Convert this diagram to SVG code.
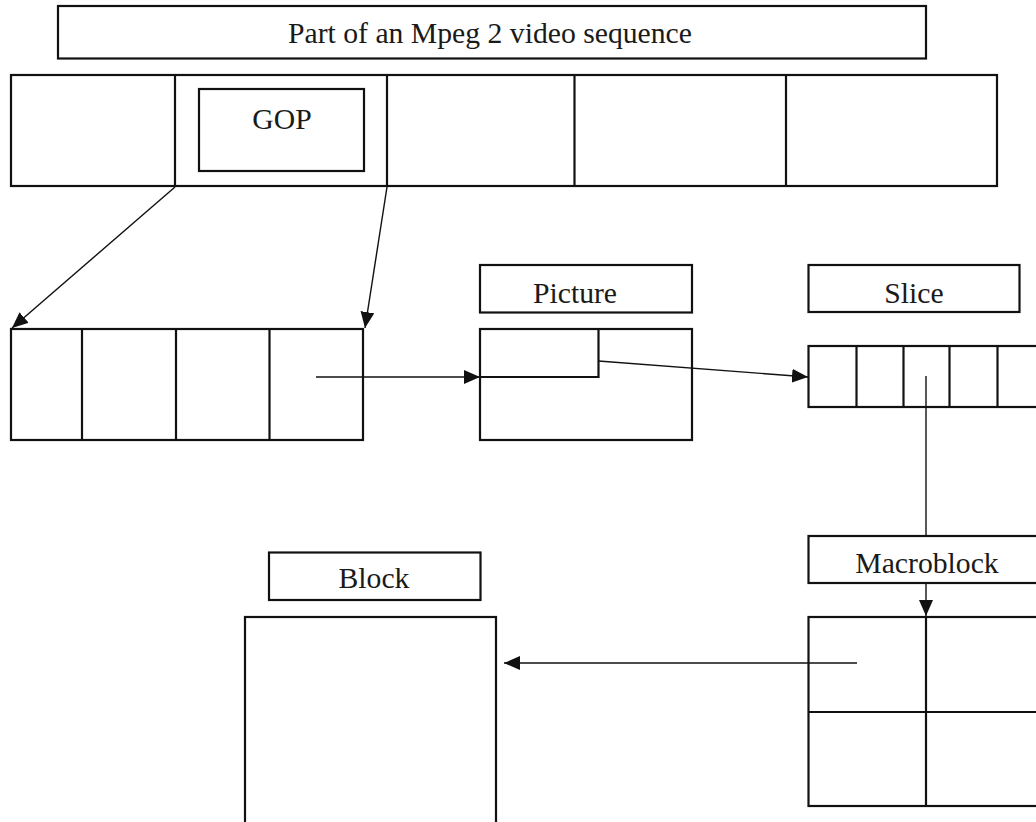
<svg xmlns="http://www.w3.org/2000/svg" width="1036" height="822" viewBox="0 0 1036 822">
  <style>
    .box { fill: none; stroke: #111; stroke-width: 2.2; }
    .div { stroke: #111; stroke-width: 2.2; }
    .lbl { font-family: "Liberation Serif", "DejaVu Serif", "Noto Serif", serif; font-size: 29.7px; fill: #1a1a1a; text-anchor: middle; }
    .link { stroke: #111; stroke-width: 1.4; fill: none; }
    .arrow { marker-end: url(#head); }
  </style>
  <defs>
    <marker id="head" markerUnits="userSpaceOnUse" markerWidth="16" markerHeight="14" viewBox="0 0 16 14" refX="16" refY="7" orient="auto">
      <path d="M0,0 L16,7 L0,14 z" fill="#111"/>
    </marker>
  </defs>
  <rect width="1036" height="822" fill="#fff"/>

  <!-- sequence title -->
  <g id="sequence-title">
    <rect class="box" x="58" y="6" width="868" height="52.5"/>
    <text class="lbl" x="490" y="43">Part of an Mpeg 2 video sequence</text>
  </g>

  <!-- sequence made of GOPs -->
  <g id="sequence-row">
    <rect class="box" x="11" y="75" width="986" height="111"/>
    <line class="div" x1="175" y1="75" x2="175" y2="186"/>
    <line class="div" x1="387" y1="75" x2="387" y2="186"/>
    <line class="div" x1="574.5" y1="75" x2="574.5" y2="186"/>
    <line class="div" x1="786" y1="75" x2="786" y2="186"/>
  </g>

  <g id="gop-label">
    <rect class="box" x="199" y="89" width="165" height="82"/>
    <text class="lbl" x="282" y="129">GOP</text>
  </g>

  <!-- GOP made of pictures -->
  <g id="gop-row">
    <rect class="box" x="11" y="329" width="352" height="111"/>
    <line class="div" x1="82" y1="329" x2="82" y2="440"/>
    <line class="div" x1="176" y1="329" x2="176" y2="440"/>
    <line class="div" x1="269.5" y1="329" x2="269.5" y2="440"/>
  </g>

  <!-- picture -->
  <g id="picture-label">
    <rect class="box" x="480" y="265" width="212" height="47.5"/>
    <text class="lbl" x="575" y="303">Picture</text>
  </g>
  <g id="picture">
    <rect class="box" x="480" y="329" width="212" height="111"/>
    <polyline class="box" points="480,377 598.5,377 598.5,329"/>
  </g>

  <!-- slice -->
  <g id="slice-label">
    <rect class="box" x="808.5" y="265" width="211" height="47"/>
    <text class="lbl" x="914" y="303">Slice</text>
  </g>
  <g id="slice">
    <rect class="box" x="808.5" y="346" width="250" height="61"/>
    <line class="div" x1="856.5" y1="346" x2="856.5" y2="407"/>
    <line class="div" x1="903.5" y1="346" x2="903.5" y2="407"/>
    <line class="div" x1="949.5" y1="346" x2="949.5" y2="407"/>
    <line class="div" x1="997.5" y1="346" x2="997.5" y2="407"/>
  </g>

  <!-- macroblock -->
  <g id="macroblock-label">
    <rect class="box" x="808.5" y="536" width="250" height="47"/>
    <text class="lbl" x="927" y="573">Macroblock</text>
  </g>
  <g id="macroblock">
    <rect class="box" x="808.5" y="617" width="250" height="189"/>
    <line class="div" x1="926" y1="617" x2="926" y2="806"/>
    <line class="div" x1="808.5" y1="712" x2="1058" y2="712"/>
  </g>

  <!-- block -->
  <g id="block-label">
    <rect class="box" x="269" y="552.5" width="211.5" height="47.5"/>
    <text class="lbl" x="374" y="588">Block</text>
  </g>
  <g id="block">
    <rect class="box" x="245" y="617" width="251" height="215"/>
  </g>

  <!-- connectors -->
  <g id="connectors">
    <line class="link arrow" x1="175" y1="187" x2="12" y2="328"/>
    <line class="link arrow" x1="387" y1="187" x2="365" y2="328"/>
    <line class="link arrow" x1="316" y1="377" x2="480" y2="377"/>
    <line class="link arrow" x1="598.5" y1="361" x2="808" y2="377"/>
    <line class="link" x1="926" y1="376" x2="926" y2="536"/>
    <line class="link arrow" x1="926" y1="583" x2="926" y2="616"/>
    <line class="link arrow" x1="857" y1="663" x2="504" y2="663"/>
  </g>
</svg>
